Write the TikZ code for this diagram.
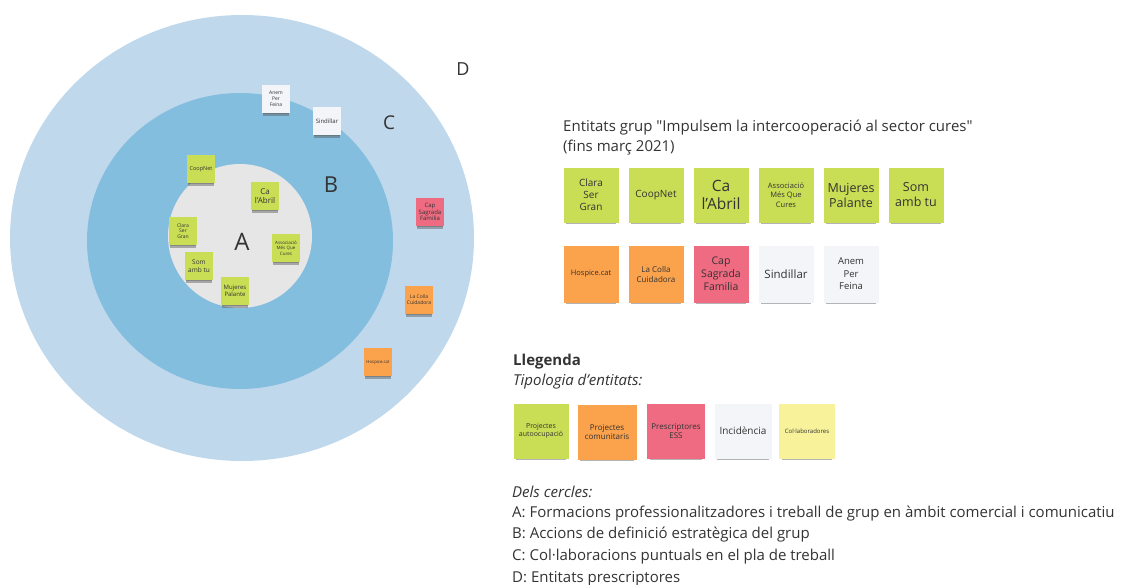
\documentclass[tikz,border=0pt]{standalone}
\usepackage{fontspec}
\setmainfont{Open Sans}
\usetikzlibrary{shadows}

\definecolor{ringD}{HTML}{BFD8EC}
\definecolor{ringB}{HTML}{84BEDE}
\definecolor{ringA}{HTML}{E6E6E6}
\definecolor{limeNote}{HTML}{C9DE55}
\definecolor{orangeNote}{HTML}{FBA24C}
\definecolor{pinkNote}{HTML}{EE6B82}
\definecolor{whiteNote}{HTML}{F3F5F8}
\definecolor{yellowNote}{HTML}{F8F29B}
\definecolor{inkgray}{HTML}{333333}

\tikzset{
	note/.style={minimum width=55pt, minimum height=55pt, inner sep=1pt, align=center, text=inkgray,
		drop shadow={shadow xshift=0pt, shadow yshift=-5pt, shadow scale=.9, opacity=.45, fill=black!65}},
	mini/.style={note, minimum width=28pt, minimum height=28pt, font=\fontsize{5}{5.8}\selectfont,
		drop shadow={shadow xshift=0pt, shadow yshift=-3pt, shadow scale=.9, opacity=.4, fill=black!65}},
	limefill/.style={fill=limeNote},
	orangefill/.style={fill=orangeNote},
	pinkfill/.style={fill=pinkNote},
	whitefill/.style={fill=whiteNote},
	yellowfill/.style={fill=yellowNote},
	ringlabel/.style={text=inkgray, inner sep=0pt},
	txt/.style={anchor=base west, inner sep=0pt, text=inkgray, font=\fontsize{15}{18}\selectfont}
}

\begin{document}
\begin{tikzpicture}[x=1pt,y=-1pt]
	\useasboundingbox (0,0) rectangle (1129,584);
	
	% circles
	\fill[ringD] (242,238) ellipse [x radius=232pt, y radius=223pt];
	\fill[ringB] (240,241) ellipse [x radius=153pt, y radius=148pt];
	\fill[ringA] (240,236) circle [radius=72pt];
	
	\node[ringlabel, font=\fontsize{24}{24}\selectfont] (lblA) at (242,242) {A};
	\node[ringlabel, font=\fontsize{22}{22}\selectfont] (lblB) at (331,185) {B};
	\node[ringlabel, font=\fontsize{19}{19}\selectfont] (lblC) at (389,123) {C};
	\node[ringlabel, font=\fontsize{18}{18}\selectfont] (lblD) at (463,69) {D};
	
	% notes inside the circles
	\node[mini, limefill, font=\fontsize{5.5}{6.5}\selectfont] (cCoop) at (201,169) {CoopNet};
	\node[mini, limefill, font=\fontsize{8}{9}\selectfont] (cAbril) at (265,196) {Ca\\l'Abril};
	\node[mini, limefill] (cClara) at (183,231) {Clara\\Ser\\Gran};
	\node[mini, limefill, font=\fontsize{4.5}{5.3}\selectfont] (cMes) at (286,248) {Associació\\Més Que\\Cures};
	\node[mini, limefill, font=\fontsize{6.5}{7.5}\selectfont] (cSom) at (199,266) {Som\\amb tu};
	\node[mini, limefill, font=\fontsize{6}{7}\selectfont] (cMuj) at (235,291) {Mujeres\\Palante};
	\node[mini, whitefill] (cAnem) at (276,99) {Anem\\Per\\Feina};
	\node[mini, whitefill, font=\fontsize{6}{7}\selectfont] (cSind) at (327,121) {Sindillar};
	\node[mini, pinkfill, font=\fontsize{6}{6.8}\selectfont] (cCap) at (430,212) {Cap\\Sagrada\\Familia};
	\node[mini, orangefill] (cColla) at (419,300) {La Colla\\Cuidadora};
	\node[mini, orangefill, font=\fontsize{4.3}{5}\selectfont] (cHosp) at (378,362) {Hospice.cat};
	
	% entities of the group
	\node[txt] (title) at (563,131) {Entitats grup \textquotedbl Impulsem la intercooperació al sector cures\textquotedbl};
	\node[txt] (titleDate) at (563,151) {(fins març 2021)};
	
	\node[note, limefill, font=\fontsize{10}{12}\selectfont] (eClara) at (591,195) {Clara\\Ser\\Gran};
	\node[note, limefill, font=\fontsize{10}{12}\selectfont] (eCoop) at (656,195) {CoopNet};
	\node[note, limefill, font=\fontsize{15.5}{18}\selectfont] (eAbril) at (721,195) {Ca\\l'Abril};
	\node[note, limefill, font=\fontsize{7.5}{9.5}\selectfont] (eMes) at (786,195) {Associació\\Més Que\\Cures};
	\node[note, limefill, font=\fontsize{12.5}{15}\selectfont] (eMuj) at (851,195) {Mujeres\\Palante};
	\node[note, limefill, font=\fontsize{12.5}{15}\selectfont] (eSom) at (916,195) {Som\\amb tu};
	
	\node[note, orangefill, minimum height=57pt, font=\fontsize{7.5}{9}\selectfont] (eHosp) at (591,274) {Hospice.cat};
	\node[note, orangefill, minimum height=57pt, font=\fontsize{8}{10}\selectfont] (eColla) at (656,274) {La Colla\\Cuidadora};
	\node[note, pinkfill, minimum height=57pt, font=\fontsize{10.5}{13}\selectfont] (eCap) at (721,274) {Cap\\Sagrada\\Familia};
	\node[note, whitefill, minimum height=57pt, font=\fontsize{11.5}{14}\selectfont] (eSind) at (786,274) {Sindillar};
	\node[note, whitefill, minimum height=57pt, font=\fontsize{9.5}{12.5}\selectfont] (eAnem) at (851,274) {Anem\\Per\\Feina};
	
	% legend
	\node[txt, font=\fontsize{15}{18}\selectfont\bfseries] (legend) at (513,365) {Llegenda};
	\node[txt, font=\fontsize{15}{18}\selectfont\itshape] (tipus) at (513,385) {Tipologia d'entitats:};
	
	\node[note, limefill, font=\fontsize{7}{8.5}\selectfont] (kAuto) at (541,431) {Projectes\\autoocupació};
	\node[note, orangefill, minimum width=59pt, font=\fontsize{8}{9.5}\selectfont] (kCom) at (607,432) {Projectes\\comunitaris};
	\node[note, pinkfill, minimum width=58pt, font=\fontsize{8}{9.5}\selectfont] (kPres) at (676,431) {Prescriptores\\ESS};
	\node[note, whitefill, minimum width=57pt, font=\fontsize{10}{12}\selectfont] (kInc) at (743,431) {Incidència};
	\node[note, yellowfill, minimum width=56pt, font=\fontsize{6}{7}\selectfont] (kCol) at (807,431) {Col·laboradores};
	
	\node[txt, font=\fontsize{15}{18}\selectfont\itshape] (cercles) at (512,497) {Dels cercles:};
	\node[txt] (defA) at (512,517) {A: Formacions professionalitzadores i treball de grup en àmbit comercial i comunicatiu};
	\node[txt] (defB) at (512,538) {B: Accions de definició estratègica del grup};
	\node[txt] (defC) at (512,560) {C: Col·laboracions puntuals en el pla de treball};
	\node[txt] (defD) at (512,582) {D: Entitats prescriptores};
\end{tikzpicture}
\end{document}
